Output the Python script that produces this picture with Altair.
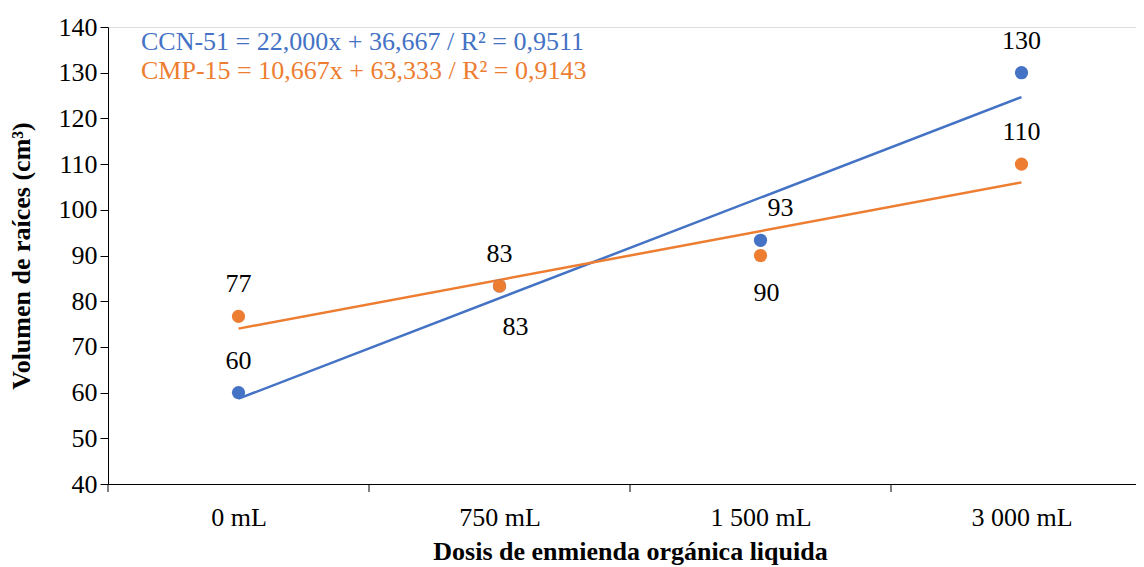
import altair as alt
import pandas as pd

categories = ["0 mL", "750 mL", "1 500 mL", "3 000 mL"]
ccn51 = [60.0, 83.33, 93.33, 130.0]
cmp15 = [76.67, 83.33, 90.0, 110.0]
series_names = ["CCN-51", "CMP-15"]
equations = [
    "CCN-51 = 22,000x + 36,667 / R² = 0,9511",
    "CMP-15 = 10,667x + 63,333 / R² = 0,9143",
]
y_ticks = [40, 50, 60, 70, 80, 90, 100, 110, 120, 130, 140]

# label placement groups (style only)
label_place = {
    "CCN-51": ["up", "down_r", "up_r", "up"],
    "CMP-15": ["up", "up", "down_o", "up"],
}
offsets = {"up": (0, -32), "down_r": (16, 41), "up_r": (20, -32), "down_o": (6, 37)}

rows = []
for s, vals in zip(series_names, [ccn51, cmp15]):
    for i, v in enumerate(vals):
        rows.append({"idx": i + 1, "cat": categories[i], "val": v, "serie": s,
                     "lpos": label_place[s][i]})
df = pd.DataFrame(rows)
bounds = pd.DataFrame({"b": [i + 0.5 for i in range(len(categories))]})
eq_df = pd.DataFrame({"t": equations, "serie": series_names})

FONT = "Liberation Serif"
FS = 26
BLUE, ORANGE = "#4472C4", "#ED7D31"
W, H = 1028, 457
xdom = [0.5, 0.5 + W / 261.0]

color = alt.Color("serie:N", scale=alt.Scale(domain=series_names, range=[BLUE, ORANGE]), legend=None)
label_expr = "[" + ",".join("'%s'" % c for c in categories) + "][datum.value - 1]"

xenc = alt.X("idx:Q", scale=alt.Scale(domain=xdom, nice=False, zero=False),
             axis=alt.Axis(values=[1, 2, 3, 4], labelExpr=label_expr, ticks=False, grid=False,
                           domainColor="black", labelFont=FONT, labelFontSize=FS, labelColor="black",
                           labelPadding=20, title="Dosis de enmienda orgánica liquida",
                           titleFont=FONT, titleFontSize=FS, titleFontWeight="bold", titleColor="black",
                           titleX=522, titlePadding=8))
yenc = alt.Y("val:Q", scale=alt.Scale(domain=[40, 140], nice=False, zero=False),
             axis=alt.Axis(values=y_ticks, grid=False, tickSize=8, tickColor="black", domainColor="black",
                           labelFont=FONT, labelFontSize=FS, labelColor="black", labelPadding=3,
                           title="Volumen de raíces (cm³)", titleFont=FONT, titleFontSize=FS,
                           titleFontWeight="bold", titleColor="black", titlePadding=24))

base = alt.Chart(df)

trend = base.transform_regression("idx", "val", groupby=["serie"]).mark_line(strokeWidth=2.5).encode(
    x=xenc, y=yenc, color=color)
points = base.mark_circle(size=175, opacity=1).encode(x=xenc, y=yenc, color=color)

labels = []
for key, (dx, dy) in offsets.items():
    labels.append(base.transform_filter(alt.datum.lpos == key).mark_text(
        font=FONT, fontSize=FS, color="black", dx=dx, dy=dy, baseline="middle").encode(
        x=xenc, y=yenc, text=alt.Text("val:Q", format=".0f")))

ticks = alt.Chart(bounds).mark_rule(color="black", strokeWidth=1).encode(
    x=alt.X("b:Q", scale=alt.Scale(domain=xdom, nice=False, zero=False)),
    y=alt.value(H), y2=alt.value(H + 8))

eqs = []
for name, ypix in zip(series_names, [15, 44]):
    eqs.append(alt.Chart(eq_df).transform_filter(alt.datum.serie == name).mark_text(
        font=FONT, fontSize=FS, align="left", baseline="middle").encode(
        x=alt.value(33), y=alt.value(ypix), text="t:N", color=color))

chart = alt.layer(trend, points, *labels, ticks, *eqs).properties(
    width=W, height=H, autosize=alt.AutoSizeParams(type="none"),
    padding={"left": 100, "top": 19, "right": 0, "bottom": 83}
).configure_view(stroke=None).configure(background="white")

chart.save("out.html", embed_options={"renderer": "svg", "actions": False})
